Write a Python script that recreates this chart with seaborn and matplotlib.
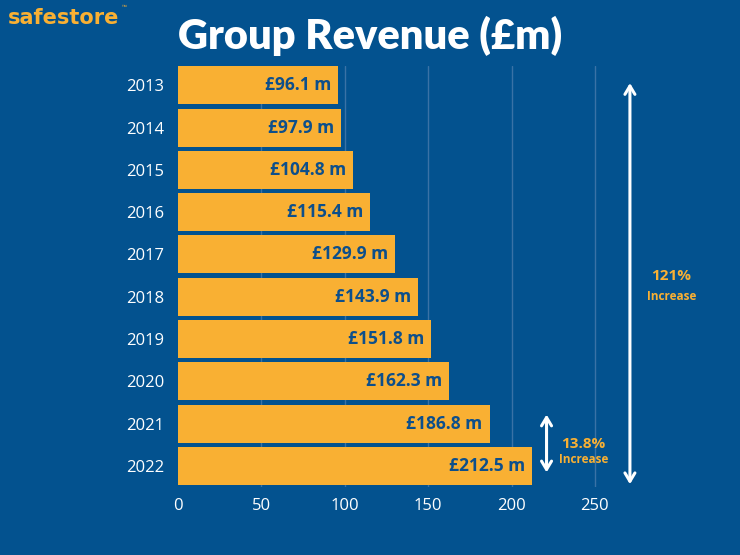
import seaborn as sns
import matplotlib.pyplot as plt

years = ['2013', '2014', '2015', '2016', '2017', '2018', '2019', '2020', '2021', '2022']
revenue = [96.1, 97.9, 104.8, 115.4, 129.9, 143.9, 151.8, 162.3, 186.8, 212.5]
labels = ['£96.1 m', '£97.9 m', '£104.8 m', '£115.4 m', '£129.9 m',
          '£143.9 m', '£151.8 m', '£162.3 m', '£186.8 m', '£212.5 m']
x_ticks = [0, 50, 100, 150, 200, 250]

bg = '#03528F'
bar_col = '#F9B033'
label_col = '#0D4F8B'
grid_col = '#3A72A6'

sns.set_theme(style='white')
plt.rcParams['font.family'] = ['Open Sans', 'DejaVu Sans']

fig = plt.figure(figsize=(7.4, 5.55), dpi=100, facecolor=bg)
ax = fig.add_axes([0.2405, 0.1225, 0.7595, 0.758])
ax.set_facecolor(bg)

sns.barplot(x=revenue, y=years, orient='h', color=bar_col, saturation=1,
            width=0.9, linewidth=0, edgecolor=bar_col, ax=ax, zorder=3)

# label inside the end of each bar
for i, (v, lab) in enumerate(zip(revenue, labels)):
    ax.annotate(lab, xy=(v, i), xytext=(-5, 0), textcoords='offset points',
                ha='right', va='center', color=label_col, fontsize=12.5,
                fontweight='bold', zorder=4)

ax.set_xlim(0, 337)
ax.set_ylim(9.5, -0.45)
ax.set_xticks(x_ticks)
for t in x_ticks[1:]:
    ax.axvline(t, color=grid_col, lw=1, zorder=1)
for s in ax.spines.values():
    s.set_visible(False)
ax.tick_params(axis='both', colors='white', labelsize=12, length=0)
ax.tick_params(axis='y', pad=10)
ax.tick_params(axis='x', pad=8)
ax.set_xlabel('')
ax.set_ylabel('')

# growth arrows
ax.annotate('', xy=(271, -0.12), xytext=(271, 9.5),
            arrowprops=dict(arrowstyle='<->,head_length=0.5,head_width=0.3',
                            color='white', lw=2.2), annotation_clip=False)
ax.annotate('', xy=(221, 7.72), xytext=(221, 9.22),
            arrowprops=dict(arrowstyle='<->,head_length=0.5,head_width=0.3',
                            color='white', lw=2.2), annotation_clip=False)
ax.text(296, 4.51, '121%', color=bar_col, fontsize=11, fontweight='bold',
        ha='center', va='center')
ax.text(296, 4.99, 'Increase', color=bar_col, fontsize=8.5, fontweight='bold',
        ha='center', va='center')
ax.text(243, 8.48, '13.8%', color=bar_col, fontsize=11, fontweight='bold',
        ha='center', va='center')
ax.text(243, 8.86, 'Increase', color=bar_col, fontsize=8.5, fontweight='bold',
        ha='center', va='center')

fig.text(0.5, 0.935, 'Group Revenue (£m)', color='white', fontsize=30,
         fontweight='heavy', ha='center', va='center',
         family=['Lato', 'DejaVu Sans'])
fig.text(0.011, 0.968, 'safestore', color=bar_col, fontsize=15,
         fontweight='bold', ha='left', va='center',
         family=['DejaVu Sans'])
fig.text(0.165, 0.987, '™', color=bar_col, fontsize=4.5, ha='left', va='center')

fig.savefig('out.png', dpi=100, facecolor=bg)
